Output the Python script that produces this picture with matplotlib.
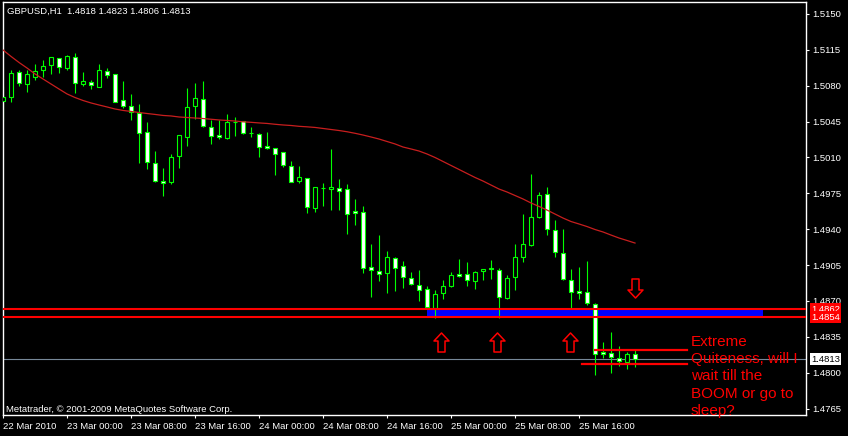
"""
GBPUSD H1 candlestick chart, MetaTrader look.
"""
import matplotlib
matplotlib.use('Agg')
import matplotlib.pyplot as plt
from matplotlib.path import Path

# hourly bars, 22 Mar 16:00 .. 25 Mar 23:00
opens = [1.5065, 1.5069, 1.5093, 1.5082, 1.5089, 1.5095, 1.5100, 1.5107, 1.5097, 1.5108,
         1.5082, 1.5084, 1.5079, 1.5094, 1.5091, 1.5066, 1.5060, 1.5053, 1.5035, 1.5005,
         1.4987, 1.4986, 1.5011, 1.5030, 1.5060, 1.5067, 1.5040, 1.5032, 1.5029, 1.5045,
         1.5046, 1.5034, 1.5033, 1.5021, 1.5019, 1.5015, 1.5002, 1.4987, 1.4990, 1.4961,
         1.4980, 1.4979, 1.4980, 1.4979, 1.4958, 1.4957, 1.4903, 1.4899, 1.4897, 1.4912,
         1.4904, 1.4892, 1.4886, 1.4882, 1.4863, 1.4878, 1.4885, 1.4896, 1.4896, 1.4889,
         1.4899, 1.4902, 1.4900, 1.4873, 1.4893, 1.4913, 1.4925, 1.4952, 1.4974, 1.4939,
         1.4917, 1.4890, 1.4880, 1.4879, 1.4867, 1.4820, 1.4819, 1.4814, 1.4810, 1.4818]
highs = [1.5080, 1.5095, 1.5095, 1.5095, 1.5101, 1.5105, 1.5108, 1.5107, 1.5110, 1.5112,
         1.5093, 1.5086, 1.5101, 1.5097, 1.5091, 1.5085, 1.5072, 1.5062, 1.5045, 1.5016,
         1.5000, 1.5013, 1.5032, 1.5078, 1.5083, 1.5085, 1.5047, 1.5047, 1.5052, 1.5049,
         1.5046, 1.5040, 1.5034, 1.5035, 1.5019, 1.5015, 1.5007, 1.5002, 1.4990, 1.4981,
         1.4985, 1.5018, 1.4989, 1.4984, 1.4969, 1.4963, 1.4926, 1.4934, 1.4919, 1.4913,
         1.4909, 1.4898, 1.4900, 1.4885, 1.4881, 1.4890, 1.4898, 1.4911, 1.4908, 1.4899,
         1.4901, 1.4910, 1.4902, 1.4895, 1.4926, 1.4955, 1.4994, 1.4976, 1.4981, 1.4949,
         1.4940, 1.4901, 1.4903, 1.4909, 1.4868, 1.4830, 1.4840, 1.4826, 1.4820, 1.4823]
lows = [1.5046, 1.5064, 1.5080, 1.5074, 1.5086, 1.5089, 1.5091, 1.5092, 1.5095, 1.5073,
        1.5080, 1.5077, 1.5079, 1.5088, 1.5064, 1.5058, 1.5047, 1.5005, 1.4999, 1.4986,
        1.4972, 1.4984, 1.5000, 1.5021, 1.5048, 1.5040, 1.5023, 1.5028, 1.5028, 1.5031,
        1.5033, 1.5030, 1.5010, 1.5018, 1.4993, 1.5001, 1.4986, 1.4985, 1.4956, 1.4957,
        1.4963, 1.4959, 1.4959, 1.4935, 1.4944, 1.4897, 1.4874, 1.4889, 1.4878, 1.4880,
        1.4883, 1.4886, 1.4870, 1.4862, 1.4853, 1.4872, 1.4884, 1.4893, 1.4885, 1.4882,
        1.4890, 1.4891, 1.4853, 1.4872, 1.4881, 1.4908, 1.4924, 1.4951, 1.4934, 1.4913,
        1.4890, 1.4862, 1.4872, 1.4866, 1.4798, 1.4814, 1.4800, 1.4807, 1.4804, 1.4806]
closes = [1.5069, 1.5092, 1.5083, 1.5091, 1.5094, 1.5099, 1.5108, 1.5098, 1.5109, 1.5083,
          1.5085, 1.5081, 1.5095, 1.5090, 1.5064, 1.5060, 1.5054, 1.5034, 1.5006, 1.4987,
          1.4985, 1.5010, 1.5032, 1.5059, 1.5068, 1.5041, 1.5031, 1.5030, 1.5045, 1.5045,
          1.5034, 1.5034, 1.5020, 1.5019, 1.5013, 1.5003, 1.4986, 1.4991, 1.4962, 1.4981,
          1.4980, 1.4981, 1.4977, 1.4955, 1.4956, 1.4902, 1.4900, 1.4896, 1.4913, 1.4902,
          1.4893, 1.4887, 1.4881, 1.4864, 1.4877, 1.4885, 1.4895, 1.4894, 1.4890, 1.4898,
          1.4901, 1.4901, 1.4874, 1.4892, 1.4913, 1.4926, 1.4952, 1.4973, 1.4940, 1.4918,
          1.4891, 1.4879, 1.4878, 1.4868, 1.4818, 1.4818, 1.4815, 1.4811, 1.4818, 1.4813]

# moving average, one value per bar
ma_values = [1.51149, 1.51086, 1.51027, 1.50973, 1.50915, 1.50866, 1.50817, 1.50768, 1.50720, 1.50685,
             1.50656, 1.50632, 1.50612, 1.50593, 1.50573, 1.50559, 1.50549, 1.50539, 1.50529, 1.50520,
             1.50510, 1.50505, 1.50495, 1.50490, 1.50485, 1.50480, 1.50473, 1.50466, 1.50461, 1.50456,
             1.50448, 1.50443, 1.50437, 1.50432, 1.50424, 1.50417, 1.50412, 1.50404, 1.50399, 1.50393,
             1.50383, 1.50373, 1.50363, 1.50351, 1.50336, 1.50319, 1.50300, 1.50280, 1.50256, 1.50232,
             1.50202, 1.50183, 1.50163, 1.50134, 1.50100, 1.50061, 1.50022, 1.49983, 1.49944, 1.49905,
             1.49870, 1.49831, 1.49792, 1.49763, 1.49729, 1.49695, 1.49656, 1.49622, 1.49587, 1.49548,
             1.49509, 1.49475, 1.49451, 1.49426, 1.49397, 1.49373, 1.49343, 1.49314, 1.49290, 1.49265]

y_ticks = [1.4765, 1.4800, 1.4835, 1.4870, 1.4905, 1.4940, 1.4975,
           1.5010, 1.5045, 1.5080, 1.5115, 1.5150]
x_tick_bars = [0, 8, 16, 24, 32, 40, 48, 56, 64, 72]
x_tick_labels = ['22 Mar 2010', '23 Mar 00:00', '23 Mar 08:00', '23 Mar 16:00', '24 Mar 00:00',
                 '24 Mar 08:00', '24 Mar 16:00', '25 Mar 00:00', '25 Mar 08:00', '25 Mar 16:00']

# drawn objects
level_lines = [1.4862, 1.4854]
zone_bars = [53, 95]
zone_prices = [1.4854, 1.4862]
range_top, range_top_bars = 1.4822, [74, 85.5]
range_bottom, range_bottom_bars = 1.4808, [72.4, 85.5]
up_arrow_bars = [54.75, 61.75, 70.9]
up_arrow_prices = [1.4830, 1.4830, 1.4830]
down_arrow_bars = [79]
down_arrow_prices = [1.4883]
note = 'Extreme\nQuiteness, will I\nwait till the\nBOOM or go to\nsleep?'

SMALL_FONT = ['Liberation Sans Narrow', 'Liberation Sans', 'DejaVu Sans']
GREEN = '#00ff00'
W, H = 848, 436


def arrow_marker(up=True):
    s = 1 if up else -1
    verts = [(0, 9.5 * s), (7.5, 1.5 * s), (3.5, 1.5 * s), (3.5, -9.5 * s),
             (-3.5, -9.5 * s), (-3.5, 1.5 * s), (-7.5, 1.5 * s), (0, 9.5 * s)]
    codes = [Path.MOVETO] + [Path.LINETO] * 6 + [Path.CLOSEPOLY]
    return Path(verts, codes)


def main():
    fig = plt.figure(figsize=(W / 100, H / 100), dpi=100, facecolor='black')
    ax = fig.add_axes([2.5 / W, 21 / H, 803.5 / W, 413 / H])
    ax.set_facecolor('black')
    for sp in ax.spines.values():
        sp.set_color('white')
        sp.set_linewidth(1.0)

    bars = list(range(len(opens)))

    # zone rectangle in the background
    ax.fill_between(zone_bars, zone_prices[0], zone_prices[1], color='#0000ff', lw=0, zorder=1)
    ax.axhline(closes[-1], color='#778899', lw=0.8, zorder=1.5)

    # candles
    ax.vlines(bars, lows, highs, color=GREEN, lw=0.8, zorder=2)
    bottoms = [min(o, c) for o, c in zip(opens, closes)]
    heights = [max(abs(c - o), 1e-6) for o, c in zip(opens, closes)]
    fills = ['black' if c >= o else 'white' for o, c in zip(opens, closes)]
    ax.bar(bars, heights, bottom=bottoms, width=0.56, color=fills, edgecolor=GREEN,
           linewidth=0.8, zorder=3)

    ax.plot(bars, ma_values, color='#c81e1e', lw=0.9, zorder=4)

    for lvl in level_lines:
        ax.axhline(lvl, color='red', lw=1.5, zorder=5)
    ax.plot(range_top_bars, [range_top] * 2, color='red', lw=1.6, zorder=5)
    ax.plot(range_bottom_bars, [range_bottom] * 2, color='red', lw=1.6, zorder=5)

    ax.plot(up_arrow_bars, up_arrow_prices, ls='none', marker=arrow_marker(True), ms=13.7,
            mfc='none', mec='red', mew=1.1, zorder=6)
    ax.plot(down_arrow_bars, down_arrow_prices, ls='none', marker=arrow_marker(False), ms=13.7,
            mfc='none', mec='red', mew=1.1, zorder=6)

    ax.text(86, 1.48365, note, color='red', fontsize=11, family=['Liberation Sans', 'DejaVu Sans'],
            va='top', ha='left', linespacing=1.28, clip_on=False, zorder=7)

    ax.set_xlim(-0.0625, 100.375)
    ax.set_ylim(1.47587, 1.51617)

    ax.yaxis.tick_right()
    ax.set_yticks(y_ticks)
    ax.set_yticklabels(['{:.4f}'.format(v) for v in y_ticks])
    ax.set_xticks(x_tick_bars)
    ax.set_xticklabels(x_tick_labels)
    ax.tick_params(colors='white', direction='out', length=2.2, width=0.8, pad=2.5)
    for lab in ax.get_xticklabels() + ax.get_yticklabels():
        lab.set_family(SMALL_FONT)
        lab.set_fontsize(6.8)
        lab.set_color('white')
    for lab in ax.get_xticklabels():
        lab.set_horizontalalignment('left')

    # price labels on the scale
    for price, fc, tc in [(level_lines[0], 'red', 'white'), (level_lines[1], 'red', 'white'),
                          (closes[-1], 'white', 'black')]:
        ax.annotate('{:.4f}'.format(price), xy=(1, price), xycoords=('axes fraction', 'data'),
                    xytext=(5, 0), textcoords='offset pixels', va='center', ha='left',
                    fontsize=6.8, family=SMALL_FONT, color=tc, annotation_clip=False,
                    bbox=dict(boxstyle='square,pad=0.15', fc=fc, ec='none'))

    title = 'GBPUSD,H1  {:.4f} {:.4f} {:.4f} {:.4f}'.format(opens[-1], highs[-1], lows[-1], closes[-1])
    fig.text(7 / W, 1 - 14 / H, title, color='white', fontsize=6.8, family=SMALL_FONT, va='baseline')
    fig.text(6 / W, 1 - 412 / H, 'Metatrader, \u00a9 2001-2009 MetaQuotes Software Corp.',
             color='white', fontsize=6.8, family=SMALL_FONT, va='baseline')

    plt.savefig('out.png', dpi=100, facecolor='black')
    plt.close()


if __name__ == "__main__":
    main()
